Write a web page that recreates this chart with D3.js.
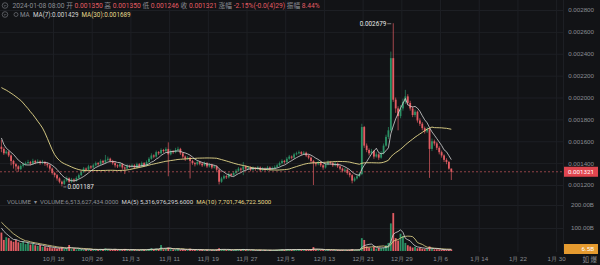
<!DOCTYPE html>
<html>
<head>
<meta charset="utf-8">
<script src="https://cdn.jsdelivr.net/npm/d3@7"></script>
<style>
  html, body { margin: 0; padding: 0; background: #121316; }
  svg { display: block; font-family: Roboto, "Noto Sans CJK SC", sans-serif; }
</style>
</head>
<body>
<svg id="chart" width="600" height="265"></svg>
<script>
// prices are kept in millionths (1321 = 0.001321), volumes in billions
const UNIT = 1e-6;

// 12h candles, first visible one is 2023-10-07 08:00
const firstCandle = new Date(2023, 9, 7, 8);

// candles before the visible range, only used by the moving averages
const preCloses = [
  1820, 1860, 1840, 1880, 1850, 1830, 1870, 1850, 1900, 2100,
  2200, 2150, 2250, 2200, 2300, 2350, 2280, 2400, 2700, 2900,
  2950, 2850, 2600, 2200, 1900, 1750, 1600, 1560, 1520, 1550,
];
const preVolumes = [
  210, 260, 230, 190, 250, 220, 180, 200, 170, 190,
  160, 175, 150, 165, 140, 155, 130, 145, 160, 170,
  180, 150, 170, 140, 160, 130, 120, 110, 100, 90,
];

const closes = [
  1530, 1490, 1505, 1470, 1420, 1390, 1370, 1345, 1375, 1390,
  1400, 1410, 1395, 1420, 1405, 1415, 1400, 1410, 1395, 1380,
  1350, 1310, 1290, 1260, 1230, 1210, 1240, 1260, 1230, 1250,
  1240, 1265, 1290, 1320, 1350, 1340, 1370, 1360, 1380, 1400,
  1390, 1420, 1405, 1430, 1440, 1420, 1400, 1380, 1370, 1390,
  1360, 1350, 1375, 1370, 1380, 1360, 1390, 1370, 1400, 1380,
  1410, 1440, 1470, 1460, 1500, 1490, 1520, 1510, 1530, 1480,
  1510, 1500, 1520, 1530, 1490, 1460, 1440, 1450, 1420, 1400,
  1390, 1410, 1395, 1380, 1400, 1370, 1385, 1360, 1370, 1340,
  1230, 1260, 1280, 1270, 1300, 1290, 1310, 1330, 1350, 1340,
  1370, 1350, 1360, 1340, 1355, 1345, 1360, 1335, 1350, 1340,
  1360, 1345, 1355, 1365, 1380, 1400, 1420, 1410, 1440, 1460,
  1450, 1480, 1490, 1500, 1485, 1495, 1470, 1450, 1420, 1400,
  1390, 1410, 1380, 1360, 1390, 1410, 1400, 1380, 1395, 1370,
  1350, 1330, 1340, 1310, 1290, 1240, 1260, 1280, 1300, 1730,
  1560, 1520, 1490, 1510, 1460, 1480, 1450, 1490, 1560, 1640,
  1700, 2360, 1980, 1900, 1830, 1900, 1960, 2010, 1950, 1900,
  1840, 1870, 1790, 1760, 1720, 1690, 1710, 1530, 1600, 1580,
  1540, 1500, 1470, 1430, 1410, 1350, 1321,
];
const highs = [
  1612, 1545, 1520, 1515, 1480, 1430, 1400, 1380, 1390, 1405,
  1415, 1430, 1420, 1440, 1430, 1435, 1425, 1430, 1420, 1405,
  1390, 1360, 1320, 1300, 1270, 1240, 1255, 1280, 1270, 1265,
  1260, 1280, 1305, 1335, 1365, 1360, 1385, 1380, 1395, 1415,
  1410, 1435, 1430, 1475, 1460, 1450, 1430, 1420, 1390, 1405,
  1400, 1370, 1390, 1385, 1395, 1390, 1405, 1400, 1415, 1410,
  1425, 1455, 1490, 1480, 1515, 1510, 1535, 1530, 1545, 1590,
  1525, 1520, 1540, 1550, 1540, 1500, 1470, 1465, 1460, 1430,
  1410, 1425, 1420, 1405, 1415, 1410, 1400, 1395, 1385, 1380,
  1350, 1275, 1295, 1290, 1315, 1310, 1325, 1345, 1365, 1360,
  1411, 1380, 1375, 1370, 1370, 1365, 1375, 1370, 1365, 1360,
  1375, 1370, 1370, 1380, 1395, 1415, 1435, 1430, 1455, 1475,
  1470, 1495, 1505, 1515, 1510, 1510, 1505, 1480, 1460, 1430,
  1410, 1425, 1420, 1390, 1405, 1425, 1420, 1410, 1410, 1405,
  1380, 1360, 1355, 1350, 1320, 1300, 1275, 1295, 1320, 1760,
  1740, 1580, 1535, 1530, 1520, 1500, 1490, 1510, 1580, 1660,
  1730, 2420, 2679, 2000, 1920, 1930, 1990, 2070, 2030, 1970,
  1920, 1890, 1880, 1810, 1775, 1735, 1730, 1720, 1625, 1615,
  1595, 1555, 1515, 1480, 1445, 1420, 1350,
];
const lows = [
  1500, 1475, 1480, 1455, 1380, 1350, 1330, 1320, 1335, 1360,
  1380, 1390, 1380, 1385, 1390, 1395, 1385, 1390, 1375, 1360,
  1330, 1295, 1270, 1240, 1215, 1187, 1200, 1230, 1215, 1220,
  1225, 1230, 1255, 1280, 1310, 1325, 1330, 1345, 1350, 1370,
  1375, 1380, 1390, 1395, 1420, 1405, 1385, 1360, 1355, 1360,
  1340, 1300, 1340, 1355, 1360, 1345, 1350, 1355, 1360, 1365,
  1370, 1400, 1430, 1445, 1450, 1475, 1480, 1495, 1500, 1280,
  1470, 1485, 1490, 1505, 1475, 1440, 1420, 1430, 1260, 1385,
  1370, 1380, 1380, 1365, 1370, 1355, 1360, 1345, 1350, 1325,
  1205, 1220, 1250, 1255, 1260, 1275, 1280, 1300, 1320, 1325,
  1290, 1335, 1340, 1325, 1330, 1330, 1335, 1320, 1325, 1325,
  1330, 1330, 1335, 1345, 1355, 1370, 1390, 1395, 1400, 1430,
  1435, 1440, 1470, 1480, 1470, 1475, 1455, 1435, 1400, 1200,
  1370, 1380, 1365, 1340, 1350, 1380, 1385, 1365, 1370, 1355,
  1335, 1315, 1320, 1295, 1270, 1215, 1230, 1250, 1270, 1290,
  1540, 1500, 1470, 1480, 1440, 1450, 1430, 1440, 1480, 1550,
  1620, 1690, 1960, 1860, 1700, 1810, 1880, 1940, 1930, 1880,
  1820, 1820, 1770, 1740, 1700, 1670, 1675, 1265, 1510, 1560,
  1520, 1480, 1450, 1410, 1390, 1340, 1246,
];
const volumes = [
  80, 48, 60, 56, 45, 40, 48, 38, 35, 42,
  30, 36, 28, 33, 25, 22, 26, 18, 20, 15,
  17, 12, 14, 10, 13, 16, 9, 11, 26, 8,
  10, 7, 9, 8, 6, 7, 8, 5, 6, 7,
  5, 9, 6, 11, 7, 5, 6, 8, 5, 4,
  6, 9, 5, 4, 5, 6, 4, 5, 7, 5,
  6, 9, 12, 6, 10, 8, 26, 7, 9, 15,
  8, 6, 7, 9, 6, 7, 5, 4, 10, 6,
  5, 4, 5, 6, 4, 5, 3, 4, 5, 6,
  12, 7, 5, 4, 6, 4, 5, 6, 7, 5,
  9, 5, 4, 3, 4, 3, 4, 5, 3, 4,
  3, 4, 3, 4, 5, 6, 7, 5, 8, 6,
  5, 7, 6, 8, 5, 6, 5, 6, 7, 17,
  6, 5, 4, 5, 4, 6, 4, 3, 4, 5,
  4, 5, 3, 4, 5, 8, 4, 3, 6, 56,
  48, 20, 15, 12, 18, 10, 14, 12, 15, 25,
  35, 120, 165, 56, 45, 75, 65, 35, 25, 20,
  15, 18, 12, 14, 10, 8, 9, 20, 9, 7,
  7.5, 7, 5, 4.5, 5, 5.5, 6.5,
];

const priceTicks = [1200, 1400, 1600, 1800, 2000, 2200, 2400, 2600, 2800];
const volumeTicks = [100, 200];
const dateTicks = [
  '2023-10-18', '2023-10-26', '2023-11-03', '2023-11-11', '2023-11-19',
  '2023-11-27', '2023-12-05', '2023-12-13', '2023-12-21', '2023-12-29',
  '2024-01-06', '2024-01-14', '2024-01-22', '2024-01-30',
];

const headerLine = [
  ['2024-01-08 08:00', 'label'], [' 开 ', 'label'], ['0.001350', 'down'],
  [' 高 ', 'label'], ['0.001350', 'down'], [' 低 ', 'label'], ['0.001246', 'down'],
  [' 收 ', 'label'], ['0.001321', 'down'], [' 涨幅 ', 'label'],
  ['-2.15%(-0.0(4)29)', 'down'], [' 振幅 ', 'label'], ['8.44%', 'down'],
];
// [text, colour key, wanted x]
const maLine = [
  ['MA', 'label', 20], ['MA(7):0.001429', 'ma7', 33], ['MA(30):0.001689', 'ma30', 79],
];
const volumeLine = [
  ['VOLUME', 'label', 7], ['▾', 'label', 32], ['VOLUME:6,513,627,434.0000', 'label', 40],
  ['MA(5) 5,316,976,295.6000', 'ma7', 118], ['MA(10) 7,701,746,722.5000', 'ma30', 190],
];

const colors = {
  up: '#2b9165',
  down: '#e35c63',
  label: '#8a8d94',
  ma7: '#d6d6d6',
  ma30: '#e7d98c',
  grid: '#1d1f24',
};

const svg = d3.select('#chart');
const plotRight = 563;

const x = d3.scaleTime()
  .domain([new Date(2023, 9, 7, 1), new Date(2024, 0, 31, 20)])
  .range([0, 565]);
const y = d3.scaleLinear().domain([1200, 2800]).range([185, 10]);
const yVol = d3.scaleLinear().domain([0, 200]).range([251, 205]);

const candles = closes.map((c, i) => ({
  t: d3.timeHour.offset(firstCandle, 12 * i),
  open: i === 0 ? preCloses[preCloses.length - 1] : closes[i - 1],
  close: c,
  high: highs[i],
  low: lows[i],
  volume: volumes[i],
}));
candles.forEach(d => { d.up = d.close >= d.open; });

// moving average over the visible candles, using earlier ones as history
const movingAverage = (history, values, n) => {
  const all = history.concat(values);
  return values.map((v, i) => d3.mean(all.slice(i + history.length - n + 1, i + history.length + 1)));
};
const ma7 = movingAverage(preCloses, closes, 7);
const ma30 = movingAverage(preCloses, closes, 30);
const volMa5 = movingAverage(preVolumes, volumes, 5);
const volMa10 = movingAverage(preVolumes, volumes, 10);

// clip areas for both panels
const defs = svg.append('defs');
defs.append('clipPath').attr('id', 'clip-price')
  .append('rect').attr('x', 0).attr('y', 0).attr('width', plotRight).attr('height', 192);
defs.append('clipPath').attr('id', 'clip-vol')
  .append('rect').attr('x', 0).attr('y', 196).attr('width', plotRight).attr('height', 56);

// grid
const gridStyle = g => {
  g.select('.domain').remove();
  g.selectAll('line').attr('stroke', colors.grid).attr('stroke-width', 1);
  g.selectAll('text').remove();
};
const parseDate = d3.timeParse('%Y-%m-%d');
const tickDates = dateTicks.map(parseDate);

svg.append('g')
  .call(d3.axisRight(y).tickValues(priceTicks).tickSize(plotRight))
  .call(gridStyle);
svg.append('g')
  .call(d3.axisRight(yVol).tickValues(volumeTicks).tickSize(plotRight))
  .call(gridStyle);
svg.append('g')
  .attr('transform', 'translate(0,252)')
  .call(d3.axisBottom(x).tickValues(tickDates).tickSize(-252))
  .call(gridStyle);
svg.append('line')
  .attr('x1', plotRight + 0.5).attr('x2', plotRight + 0.5)
  .attr('y1', 0).attr('y2', 252)
  .attr('stroke', colors.grid);

// candles
const bodyW = 1.8;
const price = svg.append('g').attr('clip-path', 'url(#clip-price)');
price.selectAll('line.wick')
  .data(candles)
  .join('line')
  .attr('class', 'wick')
  .attr('x1', d => x(d.t)).attr('x2', d => x(d.t))
  .attr('y1', d => y(d.high)).attr('y2', d => y(d.low))
  .attr('stroke', d => (d.up ? colors.up : colors.down))
  .attr('stroke-width', 0.7);
price.selectAll('rect.body')
  .data(candles)
  .join('rect')
  .attr('class', 'body')
  .attr('x', d => x(d.t) - bodyW / 2)
  .attr('width', bodyW)
  .attr('y', d => y(Math.max(d.open, d.close)))
  .attr('height', d => Math.max(0.6, Math.abs(y(d.open) - y(d.close))))
  .attr('fill', d => (d.up ? colors.up : colors.down));

const maPath = (values, scale) => d3.line()
  .x((d, i) => x(candles[i].t))
  .y(d => scale(d))(values);

price.append('path').attr('d', maPath(ma30, y))
  .attr('fill', 'none').attr('stroke', colors.ma30).attr('stroke-width', 0.9);
price.append('path').attr('d', maPath(ma7, y))
  .attr('fill', 'none').attr('stroke', colors.ma7).attr('stroke-width', 0.8);

// last price line
const last = candles[candles.length - 1];
svg.append('line')
  .attr('x1', 0).attr('x2', plotRight)
  .attr('y1', y(last.close)).attr('y2', y(last.close))
  .attr('stroke', '#c9585c').attr('stroke-width', 0.7)
  .attr('stroke-dasharray', '2,2');

// high / low markers
const hiIdx = d3.maxIndex(candles, d => d.high);
const loIdx = d3.minIndex(candles, d => d.low);
const hi = candles[hiIdx];
const lo = candles[loIdx];
const markFont = 6.3;
svg.append('line')
  .attr('x1', x(hi.t) - 6).attr('x2', x(hi.t) - 2)
  .attr('y1', y(hi.high) + 0.5).attr('y2', y(hi.high) + 0.5)
  .attr('stroke', '#d0d0d0').attr('stroke-width', 0.6);
svg.append('text')
  .attr('x', x(hi.t) - 7).attr('y', y(hi.high) + 2.5)
  .attr('text-anchor', 'end').attr('font-size', markFont).attr('fill', '#e6e6e6')
  .text((hi.high * UNIT).toFixed(6));
svg.append('line')
  .attr('x1', x(lo.t) + 1.5).attr('x2', x(lo.t) + 4.5)
  .attr('y1', y(lo.low) + 0.5).attr('y2', y(lo.low) + 0.5)
  .attr('stroke', '#d0d0d0').attr('stroke-width', 0.6);
svg.append('text')
  .attr('x', x(lo.t) + 5.5).attr('y', y(lo.low) + 2.5)
  .attr('font-size', markFont).attr('fill', '#e6e6e6')
  .text((lo.low * UNIT).toFixed(6));

// volume
const vol = svg.append('g').attr('clip-path', 'url(#clip-vol)');
vol.selectAll('rect')
  .data(candles)
  .join('rect')
  .attr('x', d => x(d.t) - bodyW / 2)
  .attr('width', bodyW)
  .attr('y', d => yVol(d.volume))
  .attr('height', d => yVol(0) - yVol(d.volume))
  .attr('fill', d => (d.up ? colors.up : colors.down));
vol.append('path').attr('d', maPath(volMa10, yVol))
  .attr('fill', 'none').attr('stroke', colors.ma30).attr('stroke-width', 0.8);
vol.append('path').attr('d', maPath(volMa5, yVol))
  .attr('fill', 'none').attr('stroke', colors.ma7).attr('stroke-width', 0.8);

// axes labels
const axisText = g => {
  g.select('.domain').remove();
  g.selectAll('line').remove();
  g.selectAll('text').attr('fill', colors.label).attr('font-size', 6.2);
};
svg.append('g')
  .attr('transform', 'translate(594,0)')
  .call(d3.axisLeft(y).tickValues(priceTicks).tickSize(0).tickPadding(0)
    .tickFormat(v => (v * UNIT).toFixed(6)))
  .call(axisText);
svg.append('g')
  .attr('transform', 'translate(594,0)')
  .call(d3.axisLeft(yVol).tickValues(volumeTicks).tickSize(0).tickPadding(0)
    .tickFormat(v => `${v.toFixed(2)}B`))
  .call(axisText);
svg.append('g')
  .attr('transform', 'translate(0,256.5)')
  .call(d3.axisBottom(x).tickValues(tickDates).tickSize(0).tickPadding(0)
    .tickFormat(d3.timeFormat('%-m月 %-d')))
  .call(axisText);

// current value boxes
svg.append('rect')
  .attr('x', 564).attr('y', y(last.close) - 5).attr('width', 34).attr('height', 10)
  .attr('fill', '#e0464f');
svg.append('text')
  .attr('x', 594).attr('y', y(last.close) + 2.2)
  .attr('text-anchor', 'end').attr('font-size', 6.2).attr('fill', '#ffffff')
  .text((last.close * UNIT).toFixed(6));
svg.append('rect')
  .attr('x', 564).attr('y', yVol(last.volume) - 5.5).attr('width', 34).attr('height', 10)
  .attr('fill', '#e59a2f');
svg.append('text')
  .attr('x', 594).attr('y', yVol(last.volume) + 1.8)
  .attr('text-anchor', 'end').attr('font-size', 6.2).attr('fill', '#ffffff')
  .text(`${last.volume.toFixed(1)}B`);
svg.append('text')
  .attr('x', 597).attr('y', 262)
  .attr('text-anchor', 'end').attr('font-size', 6.5).attr('fill', colors.label)
  .text('如 爆');

// header rows
const drawRow = (parts, px, py, size) => {
  const t = svg.append('text').attr('x', px).attr('y', py)
    .attr('font-size', size).attr('xml:space', 'preserve');
  parts.forEach(([s, c]) => {
    t.append('tspan').attr('fill', colors[c]).text(s);
  });
};
// each part goes to its wanted x, pushed right if the previous one is still there
const drawPlaced = (parts, py, size) => {
  let end = 0;
  parts.forEach(([s, c, px]) => {
    const t = svg.append('text').attr('x', Math.max(px, end + 3)).attr('y', py)
      .attr('font-size', size).attr('fill', colors[c]).text(s);
    end = +t.attr('x') + t.node().getComputedTextLength();
  });
};
const drawIcon = (cx, cy) => {
  svg.append('circle').attr('cx', cx).attr('cy', cy).attr('r', 2.8)
    .attr('fill', 'none').attr('stroke', '#80838a').attr('stroke-width', 0.6);
  svg.append('path')
    .attr('d', `M${cx - 1.3},${cy - 0.5}L${cx},${cy + 0.8}L${cx + 1.3},${cy - 0.5}`)
    .attr('fill', 'none').attr('stroke', '#80838a').attr('stroke-width', 0.6);
};
drawIcon(5, 5.5);
drawRow(headerLine, 12.5, 8, 6.7);
drawIcon(5, 14.5);
// small eye-like marker before the MA row
svg.append('circle').attr('cx', 16).attr('cy', 14.5).attr('r', 2)
  .attr('fill', 'none').attr('stroke', '#80838a').attr('stroke-width', 0.6);
drawPlaced(maLine, 17, 6.3);
drawPlaced(volumeLine, 203.5, 6.1);
</script>
</body>
</html>
